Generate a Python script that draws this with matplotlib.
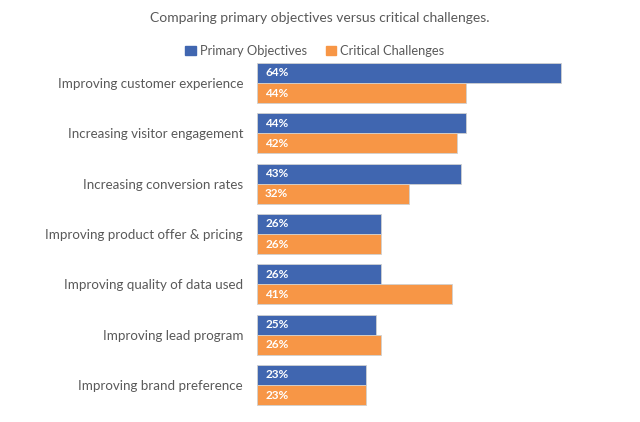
import numpy as np
import matplotlib
matplotlib.use("Agg")
import matplotlib.pyplot as plt
from matplotlib.patches import Patch

plt.rcParams["font.family"] = ["Lato", "DejaVu Sans"]

categories = [
    "Improving customer experience",
    "Increasing visitor engagement",
    "Increasing conversion rates",
    "Improving product offer & pricing",
    "Improving quality of data used",
    "Improving lead program",
    "Improving brand preference",
]
primary = [64, 44, 43, 26, 26, 25, 23]
challenges = [44, 42, 32, 26, 41, 26, 23]

blue = "#4066B0"
orange = "#F79646"
text_gray = "#595959"

fig = plt.figure(figsize=(6.4, 4.22), dpi=100)
ax = fig.add_axes([257 / 640, 0.028, 380 / 640, 0.835])

y = np.arange(len(categories))
h = 0.4
ax.barh(y - h / 2, primary, height=h, color=blue, edgecolor="#d0d0d0", linewidth=0.6)
ax.barh(y + h / 2, challenges, height=h, color=orange, edgecolor="#d0d0d0", linewidth=0.6)

for i in range(len(categories)):
    ax.text(1.7, y[i] - h / 2, f"{primary[i]}%", color="white", fontweight="bold",
            fontsize=8.5, va="center", ha="left")
    ax.text(1.7, y[i] + h / 2, f"{challenges[i]}%", color="white", fontweight="bold",
            fontsize=8.5, va="center", ha="left")

ax.set_xlim(0, 80)
ax.set_ylim(len(categories) - 0.5, -0.5)
ax.set_yticks(y)
ax.set_yticklabels(categories, fontsize=9.6, color=text_gray)
ax.tick_params(axis="y", length=0, pad=10)
ax.set_xticks([])
for s in ax.spines.values():
    s.set_visible(False)

fig.text(0.5, 1 - 18 / 422, "Comparing primary objectives versus critical challenges.",
         ha="center", va="center", fontsize=10, color=text_gray)

handles = [Patch(color=blue, label="Primary Objectives"),
           Patch(color=orange, label="Critical Challenges")]
fig.legend(handles=handles, loc="center", bbox_to_anchor=(315 / 640, 1 - 51 / 422),
           ncol=2, frameon=False, fontsize=9.3, handlelength=0.8, handleheight=0.8,
           handletextpad=0.3, columnspacing=1.5, labelcolor=text_gray)

fig.savefig("out.png", dpi=100, facecolor="white")
